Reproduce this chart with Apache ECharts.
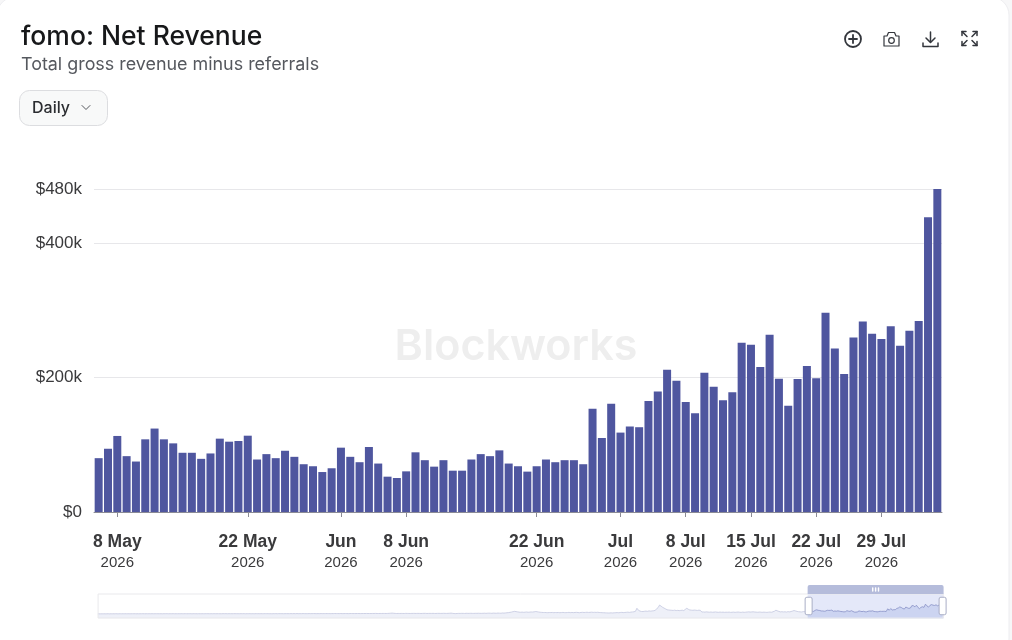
<!DOCTYPE html>
<html>
<head>
<meta charset="utf-8">
<style>
html,body{margin:0;padding:0;background:#f7f7f8;}
#chart{width:1012px;height:640px;}
</style>
<script src="https://cdn.jsdelivr.net/npm/echarts@6/dist/echarts.min.js"></script>
</head>
<body>
<div id="chart"></div>
<script>
// Daily net revenue in $k, read from the overview strip (history before the visible window)
const historyValuesK = [
0,0,0,0,1,0,1,1,0,1,
1,1,2,1,1,2,1,2,2,1,
2,2,1,2,3,2,2,1,2,2,
3,2,2,3,2,3,3,2,2,3,
2,3,3,2,3,4,3,2,3,3,
4,3,3,2,3,4,3,3,4,3,
3,4,3,3,4,3,2,3,3,4,
3,3,4,4,3,3,4,3,4,3,
4,3,3,4,5,4,3,4,4,3,
4,5,4,3,4,4,5,4,3,4,
5,4,4,3,4,5,4,4,5,4,
4,5,4,5,4,3,4,5,5,4,
5,6,5,4,5,6,5,5,6,5,
6,5,7,6,5,6,7,6,5,6,
7,6,6,8,7,6,7,6,8,7,
6,7,8,7,6,8,7,9,8,7,
8,9,7,8,9,8,7,9,10,8,
9,8,10,9,8,9,10,9,11,9,
10,9,11,10,12,10,9,11,10,12,
11,10,12,14,18,22,16,12,10,11,
10,12,11,10,13,12,11,10,12,13,
12,11,13,12,10,12,14,13,11,12,
13,12,14,12,11,13,14,12,13,15,
13,12,14,16,22,14,9,7,10,13,
12,14,13,12,15,14,13,16,14,13,
15,14,17,15,14,16,18,15,17,20,
18,16,22,19,17,24,20,18,26,22,
28,32,38,45,55,66,75,68,60,52,
48,52,46,50,55,48,52,58,54,62,
70,64,55,48,44,40,42,38,36,40,
38,42,36,40,37,41,35,39,42,38,
36,40,44,38,42,37,41,45,39,36,
42,46,40,44,48,42,45,50,44,47,
43,48,41,38,36,34,30,28,25,27,
30,26,32,35,38,33,40,44,38,42,
46,50,44,52,58,62,75,170,110,85,
72,70,78,84,76,90,82,88,95,105,
150,190,270,235,200,175,150,125,118,112,
108,104,112,100,106,98,104,110,100,135,
170,140,120,112,108,115,110,104,112,106,
55,58,52,60,54,50,56,48,52,58,
50,46,54,48,52,45,50,47,53,44,
48,52,45,50,55,48,44,52,46,50,
56,60,54,58,62,55,52,48,54,50,
46,52,48,44,50,55,48,62,80,110,
92,74,60,64,58,62,55,66,60,70,
85,100,88,74,65,60,58,66,72,78
];
// Daily net revenue in $k for the visible window, 6 May 2026 to 4 Aug 2026
const visibleValuesK = [
80,94,113,83,75,108,124,108,102,88,88,79,87,109,104.5,105.5,113.4,78,86,80,91,82,71,68,59.4,65,95.6,82,74,96.6,72,
52.5,50.5,60.4,88.7,77,67.4,77,61.4,61.4,78,86,83,91.6,72,68,60,68,78,74,77,77,71,153.5,110,161,118,127,126,165,179,211.5,
195,163.5,146.6,207,186,166,178,251.6,248.6,215.5,263.5,198,158,197.6,217,198.6,296,243,205,259.5,283,265,257,276,247,269.5,284,438,480
];
const lastDate = '2026-08-04';
const tickDates = ['2026-05-08','2026-05-22','2026-06-01','2026-06-08','2026-06-22','2026-07-01','2026-07-08','2026-07-15','2026-07-22','2026-07-29'];
const tickLabels = ['8 May','22 May','Jun','8 Jun','22 Jun','Jul','8 Jul','15 Jul','22 Jul','29 Jul'];
const tickYears = ['2026','2026','2026','2026','2026','2026','2026','2026','2026','2026'];
const yTicks = [0,200000,400000,480000];

const allValues = historyValuesK.concat(visibleValuesK).map(v => v * 1000);
const categories = allValues.map((_, i) => {
  const d = new Date(lastDate + 'T00:00:00Z');
  d.setUTCDate(d.getUTCDate() - (allValues.length - 1 - i));
  return d.toISOString().slice(0, 10);
});
const tickIndexes = tickDates.map(d => categories.indexOf(d));
const isTick = (idx, value) => tickDates.indexOf(value) >= 0;

const INK = '#3a3a3c', ICON = '#33363c', BAR = '#4f569f';
const stroke = { stroke: ICON, lineWidth: 1.5, fill: null, lineCap: 'round', lineJoin: 'round' };
const line = (x1,y1,x2,y2,s) => ({ type:'line', shape:{x1,y1,x2,y2}, style:Object.assign({}, stroke, s||{}) });
const poly = (points,s) => ({ type:'polyline', shape:{points}, style:Object.assign({}, stroke, s||{}) });

const chart = echarts.init(document.getElementById('chart'), null, { renderer:'canvas' });
chart.setOption({
  animation:false,
  backgroundColor:'#f7f7f8',
  textStyle:{ fontFamily:'Inter' },
  title:{
    left:16, top:19,
    text:'fomo: Net Revenue',
    subtext:'Total gross revenue minus referrals',
    itemGap:5,
    textStyle:{ fontFamily:'Inter', fontSize:26.5, fontWeight:500, color:'#17181a' },
    subtextStyle:{ fontFamily:'Inter', fontSize:17.9, fontWeight:400, color:'#55585e' }
  },
  grid:{ left:94, right:70, top:189, bottom:128, containLabel:false },
  xAxis:{
    type:'category',
    data:categories,
    boundaryGap:true,
    axisLine:{ lineStyle:{ color:'#8b8b95', width:1 } },
    axisTick:{ show:true, alignWithLabel:true, customValues:tickIndexes, length:5, lineStyle:{ color:'#8b8b95', width:1 } },
    axisLabel:{
      interval:isTick,
      hideOverlap:false,
      margin:18.5,
      formatter:(value) => {
        const i = tickDates.indexOf(value);
        return i < 0 ? '' : '{a|' + tickLabels[i] + '}\n{b|' + tickYears[i] + '}';
      },
      rich:{
        a:{ fontFamily:'Liberation Sans', fontSize:17.5, fontWeight:'bold', color:INK, lineHeight:23 },
        b:{ fontFamily:'Liberation Sans', fontSize:15, color:INK, lineHeight:18 }
      }
    }
  },
  yAxis:{
    type:'value',
    min:0, max:480000, interval:200000,
    axisLine:{ show:false },
    axisTick:{ show:false },
    axisLabel:{
      margin:12,
      fontFamily:'Liberation Sans', fontSize:17, color:INK,
      formatter:(v) => yTicks.indexOf(v) < 0 ? '' : '$' + (v === 0 ? '0' : (v/1000) + 'k')
    },
    splitLine:{ lineStyle:{ color:'#e7e7ea', width:1 } }
  },
  dataZoom:[{
    type:'slider',
    xAxisIndex:0,
    filterMode:'filter',
    startValue:historyValuesK.length,
    endValue:allValues.length - 1,
    left:94, width:846, top:585, height:25,
    showDetail:false,
    brushSelect:true,
    borderColor:'#e9e9ec',
    backgroundColor:'rgba(255,255,255,0)',
    fillerColor:'rgba(120,140,225,0.2)',
    handleIcon:'path://M2,0 h4 a2,2 0 0 1 2,2 v16 a2,2 0 0 1 -2,2 h-4 a2,2 0 0 1 -2,-2 v-16 a2,2 0 0 1 2,-2 z',
    handleSize:'70%',
    handleStyle:{ color:'#ffffff', borderColor:'#a9aec6', borderWidth:1 },
    moveHandleSize:9,
    moveHandleStyle:{ color:'#b5bcdb', opacity:1 },
    dataBackground:{ lineStyle:{ color:'#c4c8df', width:0.8 }, areaStyle:{ color:'#eef0f8', opacity:1 } },
    selectedDataBackground:{ lineStyle:{ color:'#8c92c0', width:0.8 }, areaStyle:{ color:'#c4cdec', opacity:0.5 } }
  }],
  graphic:[
    { type:'rect', silent:true, z:-10, shape:{ x:-3, y:-3, width:1012, height:660, r:18 }, style:{ fill:'#ffffff', stroke:'#ededf0', lineWidth:1 } },
    { type:'text', silent:true, z:-5, style:{ x:516, y:347, text:'Blockworks', align:'center', verticalAlign:'middle', fontFamily:'Inter', fontSize:43, fontWeight:600, fill:'#eeeeee' } },
    { type:'rect', shape:{ x:19.5, y:90.5, width:88, height:35, r:10 }, style:{ fill:'#f8f9f9', stroke:'#dcdde0', lineWidth:1 } },
    { type:'text', style:{ x:32, y:108, text:'Daily', verticalAlign:'middle', fontFamily:'Inter', fontSize:16, fontWeight:500, fill:'#2b2d31' } },
    poly([[82,105.5],[86,109.5],[90,105.5]], { lineWidth:1, stroke:'#55585e' }),
    { type:'circle', shape:{ cx:853, cy:39, r:8 }, style:Object.assign({}, stroke, { lineWidth:1.8 }) },
    line(853,35,853,43,{ lineWidth:1.8 }), line(849,39,857,39,{ lineWidth:1.8 }),
    poly([[884,36],[887,36],[888.5,32.5],[894.5,32.5],[896,36],[899,36],[899,46],[884,46],[884,36]], { lineWidth:1.2 }),
    { type:'circle', shape:{ cx:891.5, cy:40.5, r:2.8 }, style:Object.assign({}, stroke, { lineWidth:1.2 }) },
    line(930.5,32,930.5,42), poly([[926,38],[930.5,42.5],[935,38]]),
    poly([[923,43],[923,46.5],[938,46.5],[938,43]]),
    poly([[962,35.5],[962,31.5],[966,31.5]]), poly([[973,31.5],[977,31.5],[977,35.5]]),
    poly([[962,41.5],[962,45.5],[966,45.5]]), poly([[973,45.5],[977,45.5],[977,41.5]]),
    line(962,31.5,967,36.5), line(977,31.5,972,36.5), line(962,45.5,967,40.5), line(977,45.5,972,40.5)
  ],
  series:[{
    type:'bar',
    name:'Net Revenue',
    data:allValues,
    barWidth:8,
    itemStyle:{ color:BAR },
    large:false
  }]
});
</script>
</body>
</html>
